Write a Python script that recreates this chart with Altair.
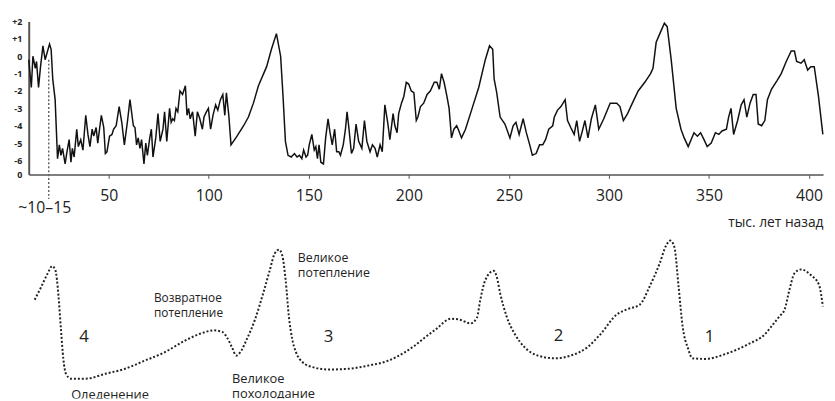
import altair as alt
import pandas as pd

# ---- top panel: temperature anomaly (°C) vs. age (thousand years ago) ----
top_age = [
    10.0, 11.3, 12.1, 13.3, 13.9, 14.9, 15.9, 17.1, 18.2, 20.4,
    21.2, 22.0, 23.2, 24.4, 25.3, 26.1, 26.9, 28.2, 29.1, 30.2,
    31.1, 31.8, 32.7, 34.0, 34.8, 36.0, 37.1, 38.5, 39.6, 40.6,
    41.7, 42.5, 43.7, 44.5, 45.5, 46.3, 47.5, 48.3, 49.1, 50.4,
    51.6, 52.4, 53.7, 55.2, 56.5, 57.8, 59.3, 60.6, 62.3, 63.1,
    63.9, 64.7, 65.6, 66.4, 67.6, 68.5, 69.3, 70.5, 71.3, 72.1,
    73.5, 74.6, 75.7, 77.1, 77.9, 79.0, 80.4, 81.2, 82.0, 82.8,
    83.6, 84.5, 85.6, 86.9, 88.3, 89.1, 89.9, 90.7, 91.9,
    93.2, 94.3, 95.5, 96.8, 97.6, 98.8, 99.8, 100.9, 102.1, 103.4, 104.5,
    105.8, 107.0, 108.0, 108.8, 110.0, 111.1, 114.1, 117.4, 119.8, 122.3,
    124.8, 128.9, 131.3, 133.8, 135.9, 137.1, 138.3, 139.6, 141.2, 142.8,
    144.1, 145.3, 146.5, 147.4, 148.6, 149.4, 150.2, 151.5, 152.7, 153.5,
    154.3, 155.1, 156.0, 157.3, 158.4, 159.6, 160.6, 161.7, 162.9, 163.9,
    165.0, 165.8, 167.2, 168.3, 169.1, 169.9,
    171.3, 172.4, 173.6, 174.9, 176.5, 177.8, 179.0, 180.6, 181.8, 183.1,
    184.2, 185.6, 186.7, 188.0, 189.4, 190.5, 192.1, 193.0, 194.1, 194.9,
    196.3, 197.5, 198.7, 199.9, 201.2, 202.5, 203.7, 204.5, 205.8, 207.4,
    209.1, 210.7, 212.7, 214.0, 215.2, 216.3, 217.6, 219.0, 220.1, 221.3,
    222.5, 223.9, 225.0, 226.3, 228.3, 231.6, 234.9, 238.2, 240.3, 241.9,
    242.6, 243.9, 245.6, 248.0, 250.5, 252.1, 253.5, 255.1, 257.1, 258.7,
    260.4, 261.7, 263.6, 265.3, 266.9, 268.3, 269.9, 271.9, 272.7, 274.3,
    276.0, 278.1, 279.3, 280.9, 282.6, 283.9, 285.3, 286.7, 288.0, 289.5,
    291.2, 293.2, 294.9, 297.4, 300.6, 303.9, 305.5, 307.2, 309.3, 311.7,
    314.6, 317.9, 320.8, 322.0, 323.6, 325.8, 327.7, 329.1, 331.1, 333.6,
    336.0, 337.6, 339.6, 342.5, 344.2, 345.8, 347.5, 349.1, 351.1, 353.2,
    354.9, 356.5, 358.7, 359.8, 361.0, 362.3, 364.3, 366.1, 367.5, 368.9,
    370.5, 372.1, 373.5, 374.6, 376.3, 377.9, 379.2, 381.2, 384.0, 386.1,
    388.6, 391.1, 392.7, 393.8, 396.0, 397.6, 399.3, 400.9, 402.6, 404.7, 406.9,
]
top_temp = [
    -0.2, -1.8, 0.0, -0.7, -0.3, -1.8, -0.6, 0.6, -0.2, 0.7,
    0.4, -1.3, -2.5, -5.9, -5.1, -5.7, -5.3, -6.2, -5.5, -4.8,
    -6.1, -5.3, -5.8, -4.2, -5.2, -4.8, -5.4, -3.4, -4.5, -5.2,
    -4.2, -4.6, -4.1, -5.0, -4.1, -3.4, -4.1, -5.6, -5.5, -4.6,
    -4.5, -4.2, -4.0, -2.9, -3.8, -5.1, -3.8, -2.5, -4.0, -4.1,
    -5.1, -4.7, -5.3, -4.8, -6.2, -5.0, -5.7, -4.7, -4.2, -5.8,
    -4.7, -3.3, -4.9, -4.2, -3.2, -4.9, -3.0, -3.8, -3.6, -3.7,
    -3.0, -3.2, -2.0, -2.2, -1.7, -3.4, -3.0, -3.6, -3.2,
    -4.6, -3.2, -3.6, -4.2, -3.5, -3.2, -3.0, -4.2, -3.4, -2.8, -3.1,
    -2.5, -2.2, -3.4, -2.1, -3.4, -5.1, -4.6, -4.0, -3.5, -2.7,
    -1.7, -0.6, 0.4, 1.3, 0.0, -2.3, -4.9, -5.7, -5.8, -5.6,
    -5.8, -5.7, -5.9, -5.4, -5.8, -5.7, -5.1, -4.5, -5.4, -5.2,
    -5.9, -5.1, -6.1, -6.2, -4.7, -3.6, -4.4, -5.1, -4.2, -5.5,
    -5.5, -5.7, -5.1, -4.2, -3.2, -4.0,
    -5.6, -5.3, -3.9, -4.9, -5.3, -3.7, -4.9, -5.5, -5.1, -5.3,
    -5.8, -5.1, -5.5, -2.8, -3.8, -4.8, -3.3, -4.0, -4.4, -3.3,
    -2.7, -2.3, -1.5, -1.6, -2.0, -2.1, -3.7, -3.5, -2.9, -2.7,
    -2.2, -2.0, -1.5, -1.5, -1.9, -1.0, -1.5, -2.3, -3.0, -4.7,
    -4.2, -4.0, -4.3, -4.7, -4.2, -3.0, -1.8, -0.2, 0.6, 0.4,
    -1.3, -2.1, -3.5, -3.9, -4.7, -4.0, -3.8, -4.5, -3.6, -4.4,
    -5.1, -5.7, -5.6, -5.1, -5.1, -4.8, -4.2, -4.0, -3.5, -3.1,
    -2.9, -2.5, -3.7, -4.1, -4.5, -3.7, -4.9, -4.3, -3.7, -4.7,
    -3.6, -2.8, -4.2, -3.6, -2.7, -2.7, -2.9, -3.7, -3.3, -2.7,
    -2.0, -1.5, -1.0, -0.7, 0.8, 1.4, 1.9, 1.7, -0.2, -3.0,
    -4.2, -4.7, -5.2, -4.4, -4.6, -4.4, -4.8, -5.2, -5.0, -4.4,
    -4.5, -4.3, -4.2, -3.5, -3.0, -4.5, -3.7, -2.8, -2.5, -3.5,
    -2.7, -2.2, -2.2, -3.9, -4.0, -3.7, -2.5, -1.9, -1.4, -1.0,
    -0.3, 0.3, 0.3, -0.3, -0.4, -0.2, -0.8, -0.6, -0.6, -2.3, -4.5,
]
x_ticks = [50, 100, 150, 200, 250, 300, 350, 400]
y_ticks = [2, 1, 0, -1, -2, -3, -4, -5, -6, -6.8]
marker_age = [20.0]
marker_temp = [-0.2]
marker_label_age = [18.0]
marker_label = ["~10–15"]
x_title = "тыс. лет назад"

# ---- bottom panel: schematic cycle curve ----
sch_age = [
    13.0, 16.3, 19.5, 21.7, 23.3, 24.9, 26.1, 27.3, 28.6, 31.1,
    38.5, 48.3, 58.2, 68.0, 77.9, 87.8, 96.0, 102.6, 106.7, 109.1,
    111.6, 113.7, 115.7, 119.0, 123.1, 127.2, 130.5, 132.9, 135.1, 136.7,
    138.4, 140.0, 141.7, 143.6, 146.9, 151.9, 160.1, 169.9, 179.8, 189.7,
    197.9, 202.8, 206.9, 213.5, 220.9, 225.0, 230.8, 234.0, 235.7, 238.2,
    242.3, 243.9, 245.6, 248.8, 253.0, 257.9, 264.5, 272.7, 280.9, 289.1,
    295.7, 303.9, 308.8, 315.4, 320.3, 325.3, 328.6, 330.6, 332.7, 334.8,
    336.8, 339.6, 341.7, 348.3, 358.2, 369.7, 377.9, 382.0, 385.3, 387.8,
    390.2, 392.7, 396.0, 400.9, 405.0, 406.9,
]
sch_level = [
    6.25, 7.08, 7.92, 8.38, 8.13, 6.46, 4.38, 2.50, 1.56, 1.25,
    1.25, 1.56, 1.88, 2.39, 2.92, 3.64, 4.11, 4.31, 4.21, 3.86,
    3.23, 2.71, 2.92, 3.75, 5.00, 6.67, 8.13, 9.17, 9.42, 9.06,
    7.50, 5.21, 3.75, 2.92, 2.29, 1.98, 1.83, 1.88, 2.08, 2.39,
    2.92, 3.33, 3.75, 4.38, 5.04, 5.00, 4.75, 5.11, 6.25, 7.50,
    8.08, 7.71, 6.67, 5.21, 4.06, 3.23, 2.71, 2.54, 2.71, 3.23,
    4.06, 5.31, 5.63, 5.94, 7.08, 8.54, 9.69, 10.0, 9.58, 7.08,
    4.58, 3.13, 2.54, 2.50, 2.81, 3.44, 4.06, 4.69, 5.21, 5.63,
    6.88, 7.92, 8.17, 7.81, 7.19, 5.83,
]
ann_text = ["Великое\nпотепление", "Возвратное\nпотепление",
            "Великое\nпохолодание", "Оледенение"]
ann_age = [144.5, 72.6, 111.6, 31.2]
ann_level = [8.92, 6.36, 1.25, 0.19]
ann_size = [12.5, 12, 13, 13]
cycle_label = ["4", "3", "2", "1"]
cycle_age = [37.6, 159.9, 274.8, 350.3]
cycle_level = [3.86, 3.86, 3.92, 3.86]

FONT = "Open Sans"
W, H = 805, 382

top_df = pd.DataFrame({"x": top_age, "t": top_temp})
marker_df = pd.DataFrame({"x": marker_age, "t": marker_temp})
marker_lbl_df = pd.DataFrame({"x": marker_label_age, "label": marker_label})
sch_df = pd.DataFrame({"x": sch_age, "v": sch_level})
ann_df = pd.DataFrame({"x": ann_age, "v": ann_level, "text": ann_text, "s": ann_size})
cyc_df = pd.DataFrame({"x": cycle_age, "v": cycle_level, "text": cycle_label})

x_scale = alt.Scale(domain=[10, 407], nice=False, zero=False)
y_top = alt.Scale(domain=[-6.8, 2], range=[155, 0], nice=False, zero=False)
y_bot = alt.Scale(domain=[0, 10], range=[382, 222], nice=False, zero=False)

x_axis = alt.Axis(
    values=x_ticks, offset=-(H - 155), grid=False, tickSize=4, tickColor="#555",
    domainColor="#555", domainWidth=1.5, labelFont=FONT, labelFontSize=16,
    labelColor="#222", labelPadding=9, labelFlush=False,
    title=x_title, titleFont=FONT, titleFontSize=14, titleFontWeight="normal",
    titleColor="#222", titleAnchor="end", titleAlign="right",
    titleX=W, titleY=49, titleBaseline="middle",
)
y_axis = alt.Axis(
    values=y_ticks, grid=False, ticks=False, domainColor="#555", domainWidth=2,
    labelFont=FONT, labelFontSize=9, labelFontWeight="bold", labelColor="#222",
    labelPadding=7, title=None,
    labelExpr="datum.value > 0 ? '+' + datum.value : (datum.value < -6.5 ? '0' : '' + datum.value)",
)

line = alt.Chart(top_df).mark_line(color="#111", strokeWidth=1.5).encode(
    x=alt.X("x:Q", scale=x_scale, axis=x_axis),
    y=alt.Y("t:Q", scale=y_top, axis=y_axis),
)
rule = alt.Chart(marker_df).mark_rule(color="#666", strokeWidth=1.5, strokeDash=[2, 2]).encode(
    x=alt.X("x:Q"),
    y=alt.Y("t:Q", scale=y_top),
    y2=alt.value(180),
)
marker_txt = alt.Chart(marker_lbl_df).mark_text(
    font=FONT, fontSize=16, color="#222", baseline="middle", align="center"
).encode(x=alt.X("x:Q"), y=alt.value(189), text="label:N")

top = alt.layer(line, rule, marker_txt)

curve = alt.Chart(sch_df).mark_line(
    color="#222", strokeWidth=2, strokeDash=[2, 2], interpolate="monotone"
).encode(
    x=alt.X("x:Q"),
    y=alt.Y("v:Q", scale=y_bot, axis=None),
)
ann = alt.Chart(ann_df).mark_text(
    font=FONT, color="#222", align="left", baseline="middle", clip=True,
    lineBreak="\n", lineHeight=15.5,
).encode(
    x=alt.X("x:Q"),
    y=alt.Y("v:Q", scale=y_bot, axis=None),
    text="text:N",
    size=alt.Size("s:Q", scale=None, legend=None),
)
cyc = alt.Chart(cyc_df).mark_text(
    font=FONT, fontSize=17, color="#222", align="center", baseline="middle"
).encode(
    x=alt.X("x:Q"),
    y=alt.Y("v:Q", scale=y_bot, axis=None),
    text="text:N",
)
bottom = alt.layer(curve, ann, cyc)

chart = (
    alt.layer(top, bottom)
    .resolve_scale(y="independent")
    .properties(width=W, height=H, padding={"left": 3, "top": 7, "right": 0, "bottom": 0},
                background="white")
    .configure_view(stroke=None)
)

chart.save("out.html", embed_options={"renderer": "svg", "actions": False})
